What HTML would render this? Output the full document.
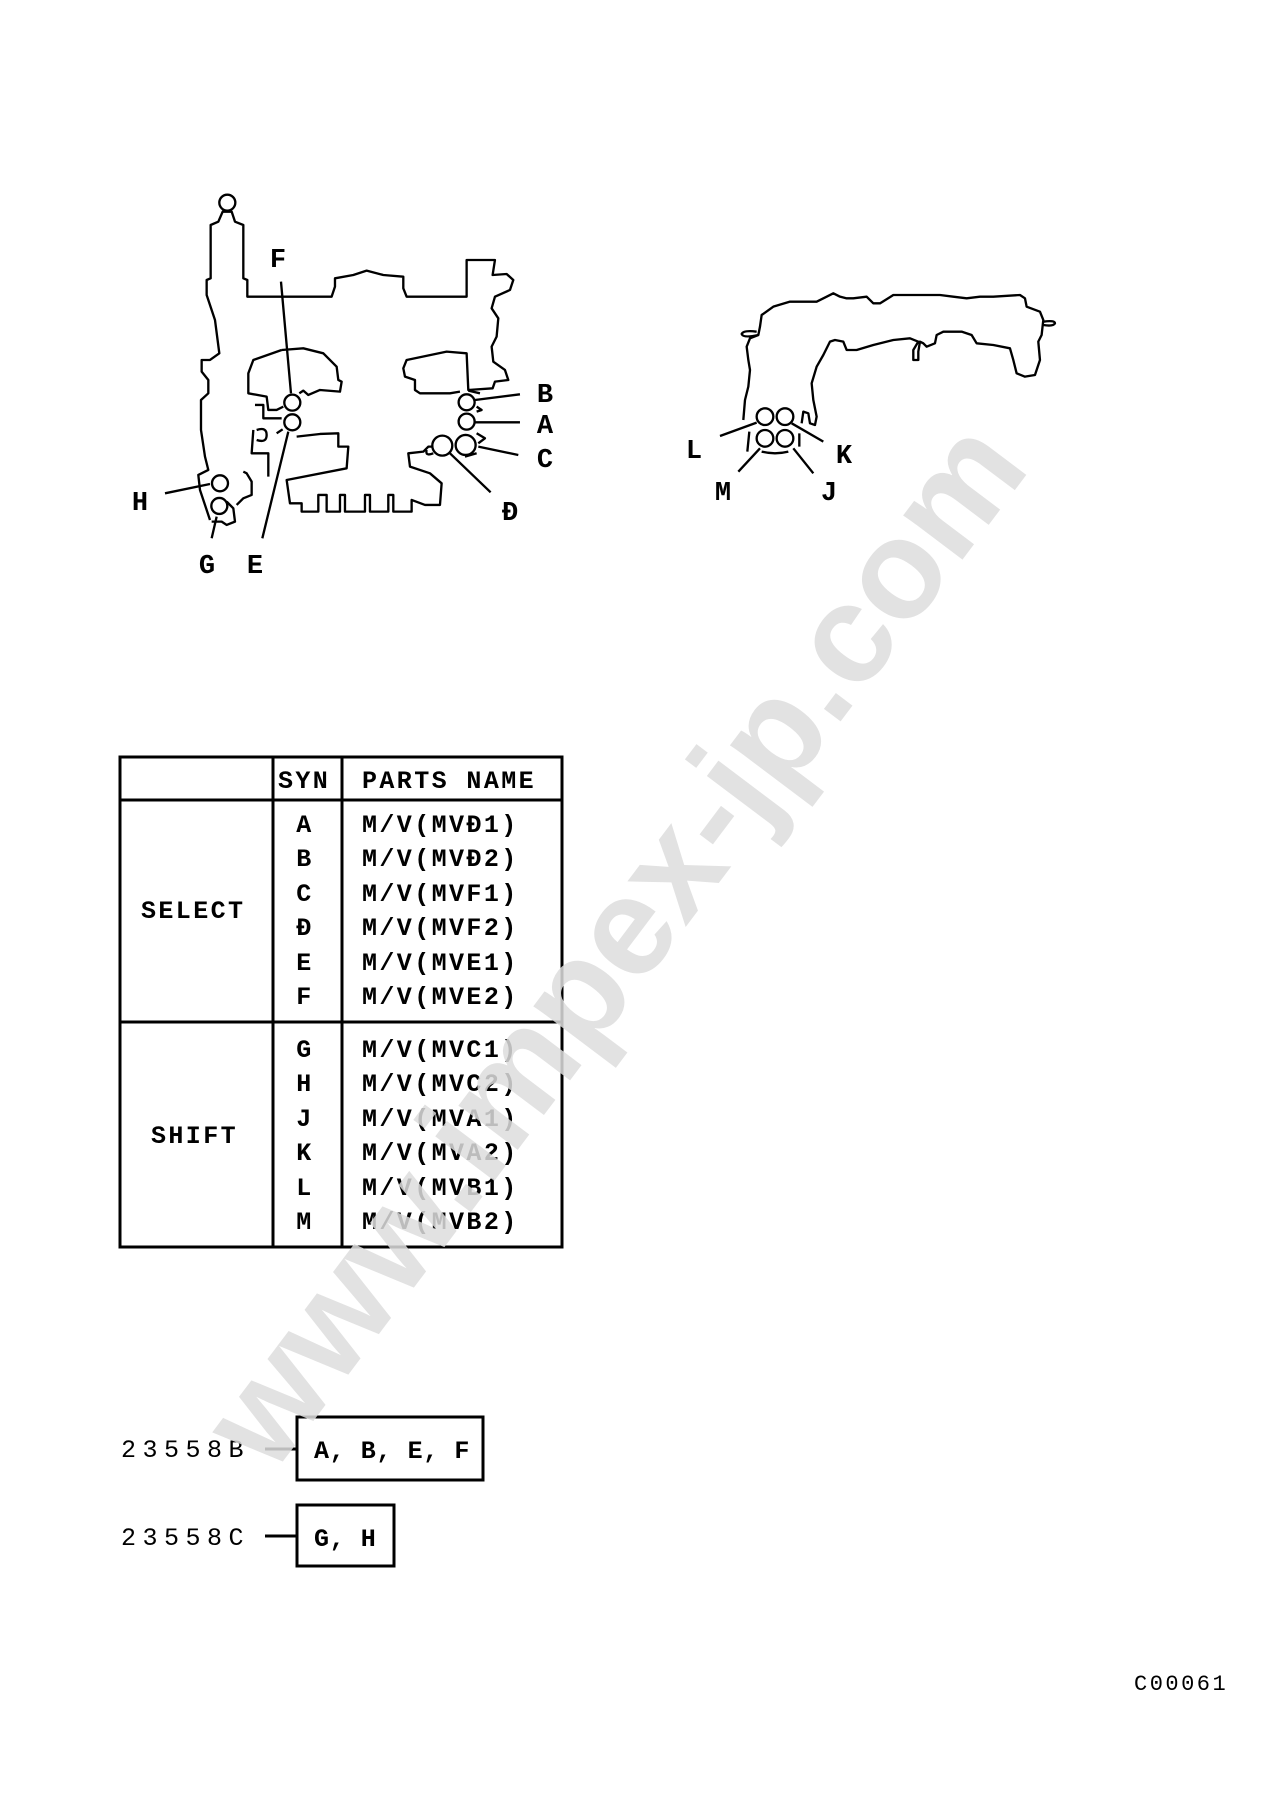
<!DOCTYPE html>
<html><head><meta charset="utf-8"><style>
html,body{margin:0;padding:0;background:#fff;}
svg{display:block;}
.l{font-family:"Liberation Mono",monospace;font-weight:bold;font-size:27px;fill:#000;}
.t{font-family:"Liberation Mono",monospace;font-weight:bold;font-size:25px;fill:#000;letter-spacing:2.4px;}
.n{font-family:"Liberation Mono",monospace;font-size:25px;fill:#000;letter-spacing:6.5px;}
</style></head><body>
<svg width="1283" height="1819" viewBox="0 0 1283 1819" xmlns="http://www.w3.org/2000/svg">
<rect width="1283" height="1819" fill="#fff"/>
<g transform="translate(100,180) scale(0.3333)" fill="none" stroke="#000" stroke-width="7" stroke-linejoin="round">
<circle cx="382" cy="68" r="24"/>
<path d="M330,1020 L300,930 L295,885 L325,870 L315,830 L303,750 L303,660 L325,640 L325,600 L305,575 L305,540 L330,540 L358,520 L345,420 L320,345 L320,300 L332,295 L332,135 L355,125 L368,95 L395,95 L405,125 L430,135 L430,295 L442,300 L442,350 L695,350 L705,320 L705,295 L760,285 L800,272 L850,285 L910,290 L910,325 L920,350 L1100,350 L1100,240 L1185,240 L1178,285 L1220,282 L1240,300 L1230,330 L1185,350 L1175,385 L1195,415 L1190,470 L1175,500 L1180,545 L1215,570 L1225,600 L1185,605 L1178,625 L1105,630 L1100,520 L1040,515 L920,540 L910,565 L915,590 L945,600 L945,630 L960,640 L1050,640 L1080,635"/>
<path d="M545,510 L610,505 L670,520 L710,560 L715,600 L725,605 L720,635 L660,630 L625,645 L610,632 L598,640 M545,510 L460,540 L445,580 L445,640 L500,650 L505,690 L530,690 L550,680"/>
<path d="M465,675 L490,675 L490,715 L545,715 M460,750 L455,820 L505,820 L505,890 M470,750 Q500,740 500,765 Q500,790 470,780 M530,760 L548,748"/>
<path d="M590,770 L660,762 L715,760 L715,800 L745,800 L740,865 L560,900 L570,970 L605,970 L605,995 L655,995 L655,945 L680,945 L680,995 L720,995 L720,945 L735,945 L735,995 L795,995 L795,945 L810,945 L810,995 L865,995 L865,945 L880,945 L880,995 L935,995 L935,960 L975,975 L1020,975 L1025,910 L990,880 L930,860 L925,820 L970,815 L985,800 L1000,800"/>
<path d="M1130,760 L1155,775 L1135,790 M1105,632 L1140,640 M1130,680 L1145,690 L1130,695 M1095,830 L1130,820"/>
<path d="M1000,820 Q975,830 980,810"/>
<path d="M410,975 L430,955 L455,945 L455,905 L440,880 L430,875 M380,965 L400,985 L405,1025 L380,1035 L365,1025 L335,1025"/>
<circle cx="577" cy="668" r="24"/><circle cx="577" cy="727" r="24"/>
<circle cx="360" cy="910" r="24"/><circle cx="358" cy="978" r="24"/>
<circle cx="1100" cy="667" r="24"/><circle cx="1100" cy="725" r="24"/>
<circle cx="1097" cy="795" r="30"/><circle cx="1027" cy="797" r="30"/>
<path d="M543,305 L573,640 M565,755 L487,1075 M195,940 L330,912 M350,1010 L335,1075 M1125,660 L1260,643 M1125,727 L1260,727 M1135,800 L1255,825 M1050,820 L1172,937"/>
</g>
<g class="l" text-anchor="middle">
<text x="278" y="267">F</text><text x="545" y="402">B</text><text x="545" y="433">A</text>
<text x="545" y="467">C</text><text x="510" y="520">Đ</text><text x="140" y="510">H</text>
<text x="207" y="573">G</text><text x="255" y="573">E</text>
<text x="694" y="458">L</text><text x="844" y="463">K</text><text x="723" y="500">M</text><text x="829" y="500">J</text>
</g>
<g transform="translate(660,260) scale(0.3333)" fill="none" stroke="#000" stroke-width="7" stroke-linejoin="round">
<path d="M250,480 L255,420 L265,380 L270,330 L265,300 L260,260 L270,235 L295,225 L300,200 L305,165 L340,140 L390,125 L430,125 L470,125 L500,110 L520,100 L540,110 L560,115 L580,115 L620,110 L640,130 L660,130 L700,105 L780,105 L840,105 L880,110 L920,115 L960,110 L1000,110 L1080,105 L1095,115 L1100,140 L1140,155 L1150,180 L1145,225 L1135,245 L1140,300 L1125,345 L1095,350 L1070,340 L1060,300 L1050,265 L1000,255 L950,250 L935,225 L905,215 L850,215 L830,225 L825,250 L800,260 L790,250 L780,245 L775,275 L775,300 L760,300 L760,270 L775,245 L750,235 L700,240 L640,255 L590,270 L560,270 L550,245 L525,240 L510,245 L490,285 L470,320 L455,370 L460,420 L470,470 L465,495 L450,490 L445,460 L430,455 L425,490"/>
<path d="M295,225 Q250,235 245,222 Q250,210 290,215 M1150,185 Q1185,180 1185,190 Q1180,200 1150,195"/>
<circle cx="315" cy="470" r="25"/><circle cx="375" cy="470" r="25"/>
<circle cx="315" cy="535" r="25"/><circle cx="375" cy="535" r="25"/>
<path d="M180,528 L290,488 M395,490 L490,545 M235,635 L300,565 M460,640 L400,565 M268,515 L262,575 M418,520 L418,560 M305,575 Q345,585 385,575"/>
</g>
<g fill="none" stroke="#000" stroke-width="3">
<rect x="120" y="757" width="442" height="490"/>
<line x1="273" y1="757" x2="273" y2="1247"/><line x1="342" y1="757" x2="342" y2="1247"/>
<line x1="120" y1="800" x2="562" y2="800"/><line x1="120" y1="1022" x2="562" y2="1022"/>
</g>
<g class="t">
<text x="278" y="788">SYN</text><text x="362" y="788">PARTS NAME</text>
<text x="141" y="918">SELECT</text><text x="151" y="1143">SHIFT</text>
</g>
<g class="t" text-anchor="middle">
<text x="305" y="832">A</text><text x="305" y="866">B</text><text x="305" y="901">C</text><text x="305" y="935">Đ</text><text x="305" y="970">E</text><text x="305" y="1004">F</text>
<text x="305" y="1057">G</text><text x="305" y="1091">H</text><text x="305" y="1126">J</text><text x="305" y="1160">K</text><text x="305" y="1195">L</text><text x="305" y="1229">M</text>
</g>
<g class="t">
<text x="362" y="832">M/V(MVĐ1)</text><text x="362" y="866">M/V(MVĐ2)</text><text x="362" y="901">M/V(MVF1)</text><text x="362" y="935">M/V(MVF2)</text><text x="362" y="970">M/V(MVE1)</text><text x="362" y="1004">M/V(MVE2)</text>
<text x="362" y="1057">M/V(MVC1)</text><text x="362" y="1091">M/V(MVC2)</text><text x="362" y="1126">M/V(MVA1)</text><text x="362" y="1160">M/V(MVA2)</text><text x="362" y="1195">M/V(MVB1)</text><text x="362" y="1229">M/V(MVB2)</text>
</g>
<g fill="none" stroke="#000" stroke-width="3">
<rect x="297" y="1417" width="186" height="63"/><rect x="297" y="1505" width="97" height="61"/>
<line x1="265" y1="1449" x2="297" y2="1449"/><line x1="265" y1="1536" x2="297" y2="1536"/>
</g>
<text class="n" x="121" y="1457">23558B</text><text class="n" x="121" y="1545">23558C</text>
<text class="t" x="314" y="1458" style="letter-spacing:0.6px">A, B, E, F</text>
<text class="t" x="314" y="1546" style="letter-spacing:0.6px">G, H</text>
<text class="n" x="1134" y="1690" style="font-size:22px;letter-spacing:2.5px">C00061</text>
<text x="0" y="0" transform="translate(622,950) rotate(-53)" text-anchor="middle" dominant-baseline="middle" style="font-family:'Liberation Sans',sans-serif;font-weight:bold;font-size:140px;fill:#dddddd;opacity:0.85">www.impex-jp.com</text>
</svg>
</body></html>
